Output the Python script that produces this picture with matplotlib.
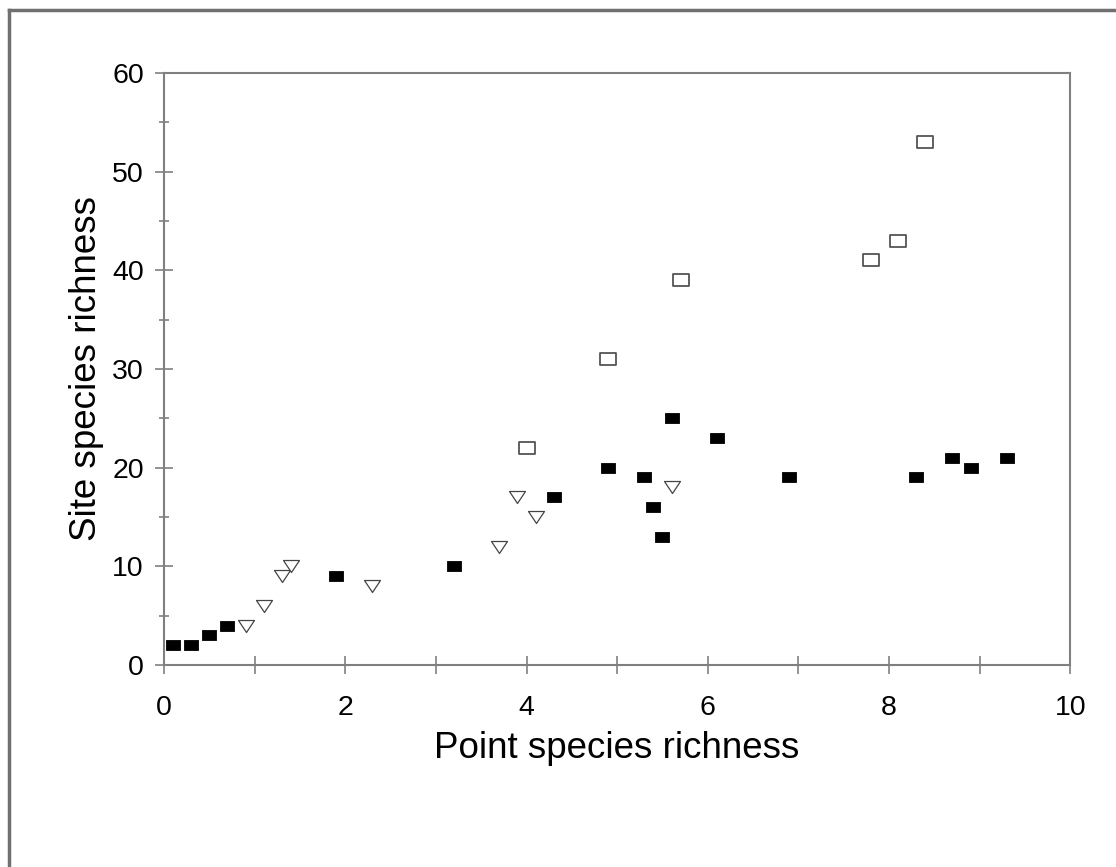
import matplotlib.pyplot as plt
from matplotlib.lines import Line2D
from matplotlib.path import Path
from matplotlib.ticker import MultipleLocator

plt.rcParams['font.family'] = ['Liberation Sans', 'DejaVu Sans']

# filled black rectangles
filled_x = [0.1, 0.3, 0.5, 0.7, 1.9, 3.2, 4.3, 4.9, 5.3, 5.4, 5.5, 5.6, 6.1, 6.9, 8.3, 8.7, 8.9, 9.3]
filled_y = [2, 2, 3, 4, 9, 10, 17, 20, 19, 16, 13, 25, 23, 19, 19, 21, 20, 21]

# open squares
open_x = [4.0, 4.9, 5.7, 7.8, 8.1, 8.4]
open_y = [22, 31, 39, 41, 43, 53]

# open down triangles
tri_x = [0.9, 1.1, 1.3, 1.4, 2.3, 3.7, 3.9, 4.1, 5.6]
tri_y = [4, 6, 9, 10, 8, 12, 17, 15, 18]

rect = Path([(-1, -0.72), (1, -0.72), (1, 0.72), (-1, 0.72), (-1, -0.72)],
            [Path.MOVETO, Path.LINETO, Path.LINETO, Path.LINETO, Path.CLOSEPOLY])
sq = Path([(-1, -0.8), (1, -0.8), (1, 0.8), (-1, 0.8), (-1, -0.8)],
          [Path.MOVETO, Path.LINETO, Path.LINETO, Path.LINETO, Path.CLOSEPOLY])
tri = Path([(-1, 0.75), (1, 0.75), (0, -0.75), (-1, 0.75)],
           [Path.MOVETO, Path.LINETO, Path.LINETO, Path.CLOSEPOLY])

fig = plt.figure(figsize=(11.16, 8.67), dpi=100)
ax = fig.add_axes([0.147, 0.233, 0.812, 0.683])

ax.plot(filled_x, filled_y, linestyle='none', marker=rect, markersize=10.5,
        markerfacecolor='black', markeredgecolor='black', markeredgewidth=0.6)
ax.plot(open_x, open_y, linestyle='none', marker=sq, markersize=11,
        markerfacecolor='white', markeredgecolor='#555555', markeredgewidth=1.3)
ax.plot(tri_x, tri_y, linestyle='none', marker=tri, markersize=11.5,
        markerfacecolor='white', markeredgecolor='#444444', markeredgewidth=0.9)

ax.set_xlim(0, 10)
ax.set_ylim(0, 60)
ax.xaxis.set_major_locator(MultipleLocator(2))
ax.xaxis.set_minor_locator(MultipleLocator(1))
ax.yaxis.set_major_locator(MultipleLocator(10))
ax.yaxis.set_minor_locator(MultipleLocator(5))

for s in ax.spines.values():
    s.set_color('#808080')
    s.set_linewidth(1.5)

ax.tick_params(which='major', direction='inout', length=13, width=1.2,
               color='#808080', labelsize=20.5, top=False, right=False)
ax.tick_params(axis='x', which='major', pad=15)
ax.tick_params(axis='y', which='major', pad=8)
ax.tick_params(axis='x', which='minor', direction='inout', length=13, width=1.2,
               color='#808080', top=False)
ax.tick_params(axis='y', which='minor', direction='inout', length=7, width=1.2,
               color='#808080', right=False)

ax.set_xlabel('Point species richness', fontsize=26.5, labelpad=7)
ax.set_ylabel('Site species richness', fontsize=26.5, labelpad=6)

# figure frame (top and left edges visible)
fig.add_artist(Line2D([9 / 1116, 9 / 1116], [0, 1 - 10 / 867], color='#707070',
                      linewidth=2.5, transform=fig.transFigure))
fig.add_artist(Line2D([9 / 1116, 1], [1 - 10 / 867, 1 - 10 / 867], color='#707070',
                      linewidth=2.5, transform=fig.transFigure))

fig.savefig('out.png', dpi=100)
